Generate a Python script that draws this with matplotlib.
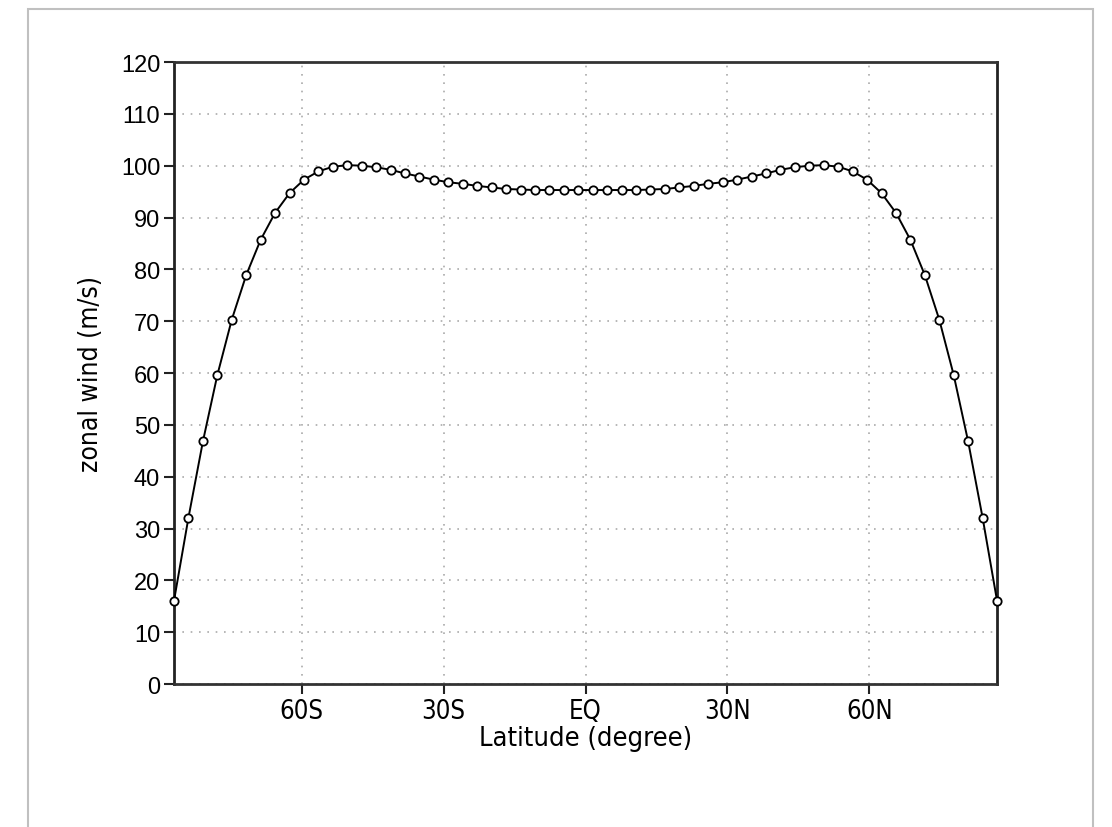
import numpy as np
import matplotlib
matplotlib.use("Agg")
import matplotlib.pyplot as plt
from matplotlib.patches import Rectangle

# 58 latitude points, evenly spaced pole to pole (southern half mirrored)
lat = np.linspace(-87, 87, 58)

u_south = [16.1, 32.1, 46.8, 59.6, 70.3, 78.9, 85.7, 90.9, 94.7, 97.3,
           98.9, 99.8, 100.1, 100.0, 99.7, 99.2, 98.5, 97.9, 97.3, 96.8,
           96.5, 96.1, 95.8, 95.5, 95.4, 95.3, 95.3, 95.3, 95.3]
u = u_south + u_south[::-1]

xticks = [-60, -30, 0, 30, 60]
xticklabels = ['60S', '30S', 'EQ', '30N', '60N']
yticks = list(range(0, 121, 10))

fig = plt.figure(figsize=(11.12, 8.28), dpi=100)
ax = fig.add_axes([0.1565, 0.1727, 0.7401, 0.7512])

ax.plot(lat, u, color='black', lw=1.4, marker='o', ms=6,
        mfc='white', mec='black', mew=1.3, clip_on=False, zorder=3)

ax.set_xlim(-87, 87)
ax.set_ylim(0, 120)
ax.set_xticks(xticks)
ax.set_xticklabels(xticklabels, family='DejaVu Sans', stretch='condensed', fontsize=18.5)
ax.set_yticks(yticks)
ax.set_yticklabels([str(v) for v in yticks], family='Liberation Sans', fontsize=17)

ax.grid(True, color='#aaaaaa', linestyle=(0, (1, 4)), lw=1.2)
ax.tick_params(direction='out', length=7, width=1.5, color='#222222', pad=3)

for side in ['left', 'right']:
    ax.spines[side].set_linewidth(2)
    ax.spines[side].set_color('#222222')
for side in ['top', 'bottom']:
    ax.spines[side].set_linewidth(2)
    ax.spines[side].set_color('#333333')
    ax.spines[side].set_linestyle((0, (3, 1)))

ax.set_xlabel('Latitude (degree)', family='DejaVu Sans', stretch='condensed',
              fontsize=19.5, labelpad=1)
ax.set_ylabel('zonal wind (m/s)', family='DejaVu Sans', stretch='condensed',
              fontsize=19, labelpad=12)

# light frame around the page
fig.add_artist(Rectangle((28 / 1112, -0.1), (1093 - 28) / 1112, 1.1 - 10 / 828,
                         transform=fig.transFigure, fill=False,
                         edgecolor='#c0c0c0', lw=1.5))

fig.savefig('out.png', dpi=100)
